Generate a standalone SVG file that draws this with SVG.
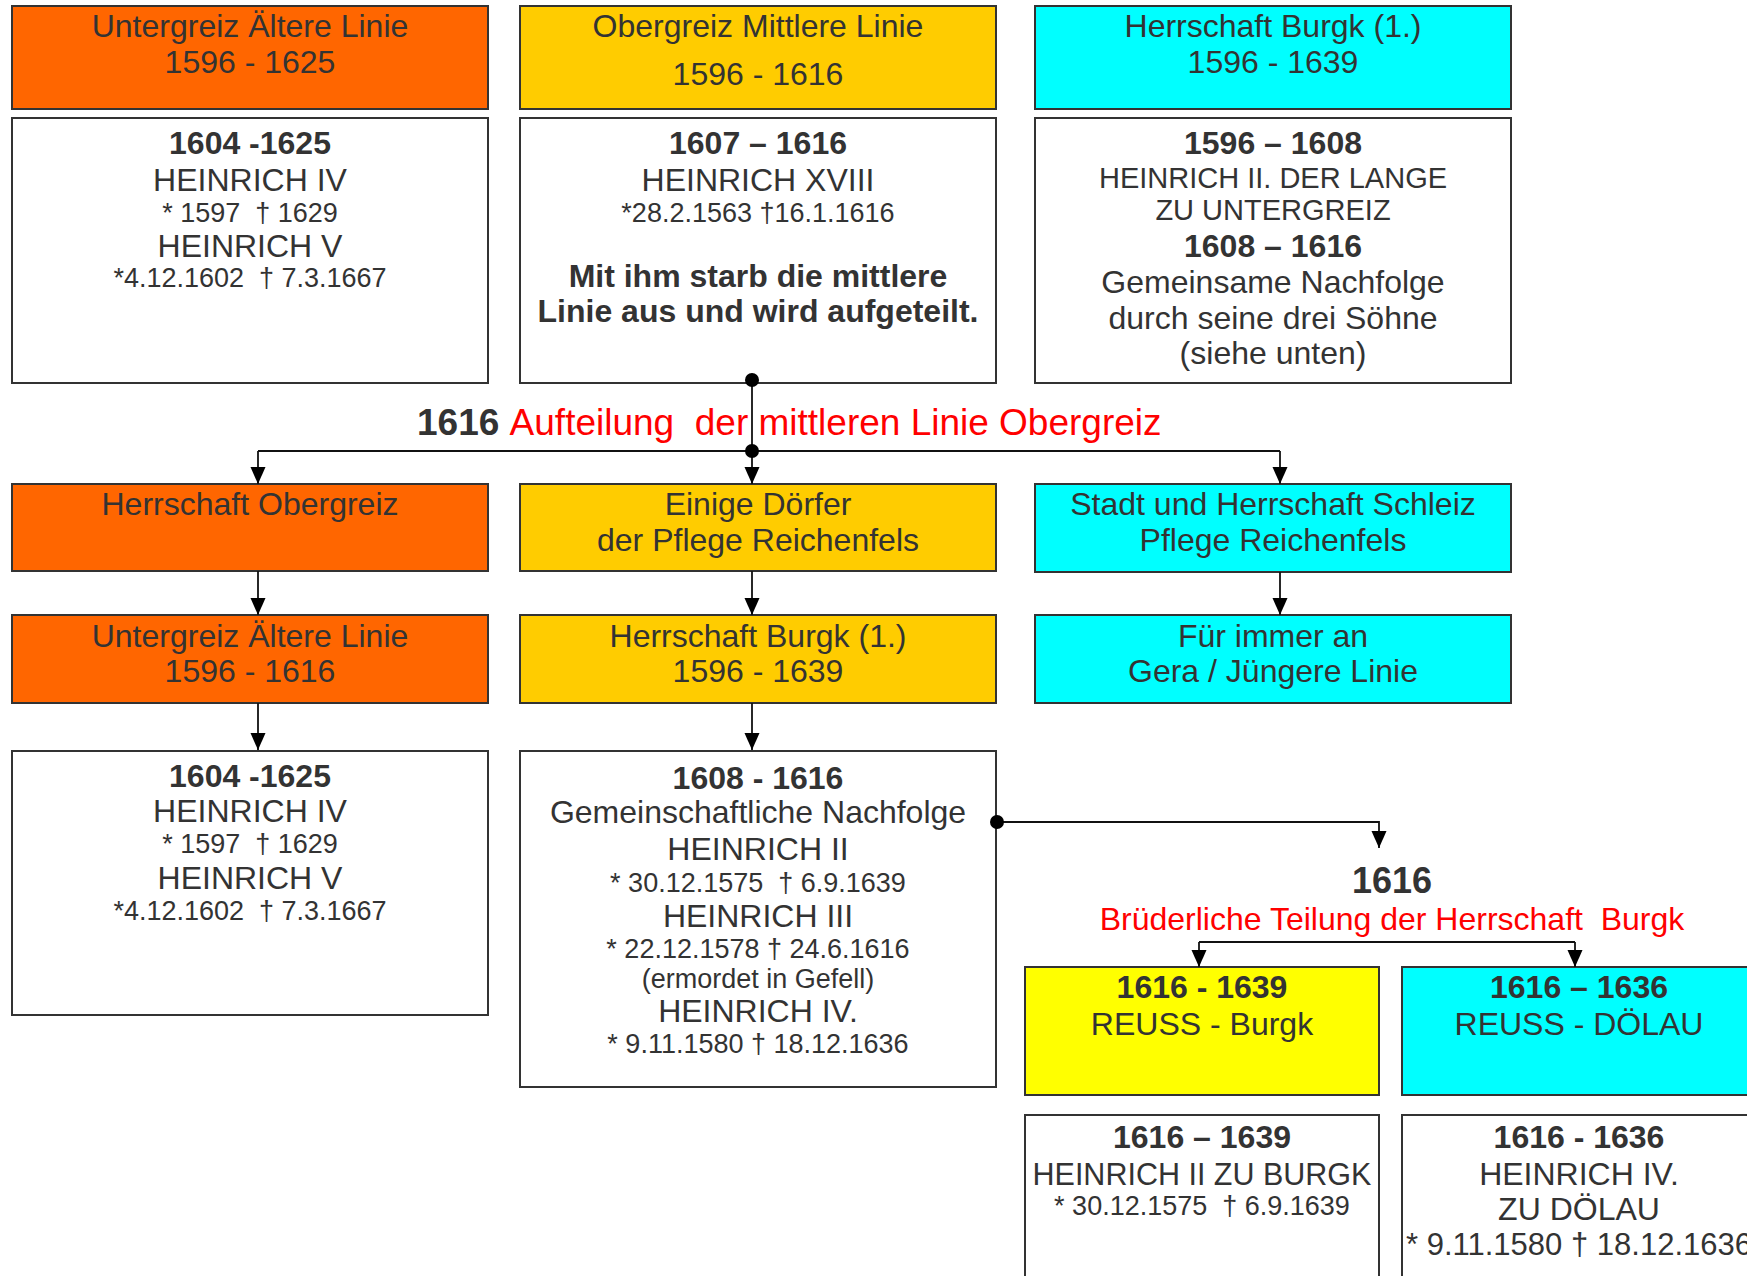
<svg xmlns="http://www.w3.org/2000/svg" width="1747" height="1276" viewBox="0 0 1747 1276" xml:space="preserve">
<style>
.box{stroke:#333;stroke-width:2}
.org{fill:#FF6600}.gold{fill:#FFCC00}.cyan{fill:#00FFFF}.yel{fill:#FFFF00}.wht{fill:#FFFFFF}
text{font-family:"Liberation Sans",Arial,sans-serif;fill:#333;text-anchor:middle;font-size:32px;white-space:pre}
.b{font-weight:bold}
.s{font-size:27px}
.m{font-size:29px}
.red{fill:#FF0000}
.con{stroke:#111;stroke-width:1.8;fill:none}
.arr{marker-end:url(#ah)}
.dot{fill:#000}
</style>
<defs>
<marker id="ah" markerUnits="userSpaceOnUse" markerWidth="18" markerHeight="16" refX="17" refY="7.5" orient="auto">
<path d="M0,0 L17,7.5 L0,15 Z" fill="#000"/>
</marker>
</defs>
<rect width="1747" height="1276" fill="#FFFFFF"/>

<g id="n-untergreiz-1">
<rect class="box org" x="12" y="6" width="476" height="103"/>
<text x="250" y="37">Untergreiz Ältere Linie</text>
<text x="250" y="73">1596 - 1625</text>
</g>
<g id="n-obergreiz-mittlere">
<rect class="box gold" x="520" y="6" width="476" height="103"/>
<text x="758" y="37">Obergreiz Mittlere Linie</text>
<text x="758" y="85">1596 - 1616</text>
</g>
<g id="n-burgk-1">
<rect class="box cyan" x="1035" y="6" width="476" height="103"/>
<text x="1273" y="37">Herrschaft Burgk (1.)</text>
<text x="1273" y="73">1596 - 1639</text>
</g>

<g id="n-heinrich-iv-v-top">
<rect class="box wht" x="12" y="118" width="476" height="265"/>
<text class="b" x="250" y="154">1604 -1625</text>
<text x="250" y="191">HEINRICH IV</text>
<text class="s" x="250" y="222">* 1597  † 1629</text>
<text x="250" y="257">HEINRICH V</text>
<text class="s" x="250" y="287">*4.12.1602  † 7.3.1667</text>
</g>
<g id="n-heinrich-xviii">
<rect class="box wht" x="520" y="118" width="476" height="265"/>
<text class="b" x="758" y="154">1607 – 1616</text>
<text x="758" y="191">HEINRICH XVIII</text>
<text class="s" x="758" y="222">*28.2.1563 †16.1.1616</text>
<text class="b" x="758" y="287">Mit ihm starb die mittlere</text>
<text class="b" x="758" y="322">Linie aus und wird aufgeteilt.</text>
</g>
<g id="n-heinrich-ii-lange">
<rect class="box wht" x="1035" y="118" width="476" height="265"/>
<text class="b" x="1273" y="154">1596 – 1608</text>
<text class="m" x="1273" y="188">HEINRICH II. DER LANGE</text>
<text class="m" x="1273" y="220">ZU UNTERGREIZ</text>
<text class="b" x="1273" y="257">1608 – 1616</text>
<text x="1273" y="293">Gemeinsame Nachfolge</text>
<text x="1273" y="329">durch seine drei Söhne</text>
<text x="1273" y="364">(siehe unten)</text>
</g>

<g id="label-aufteilung">
<text x="417" y="435" style="text-anchor:start;font-size:37px"><tspan class="b">1616 </tspan><tspan class="red">Aufteilung  der mittleren Linie Obergreiz</tspan></text>
</g>

<g id="n-herrschaft-obergreiz">
<rect class="box org" x="12" y="484" width="476" height="87"/>
<text x="250" y="515">Herrschaft Obergreiz</text>
</g>
<g id="n-einige-doerfer">
<rect class="box gold" x="520" y="484" width="476" height="87"/>
<text x="758" y="515">Einige Dörfer</text>
<text x="758" y="551">der Pflege Reichenfels</text>
</g>
<g id="n-schleiz">
<rect class="box cyan" x="1035" y="484" width="476" height="88"/>
<text x="1273" y="515">Stadt und Herrschaft Schleiz</text>
<text x="1273" y="551">Pflege Reichenfels</text>
</g>

<g id="n-untergreiz-2">
<rect class="box org" x="12" y="615" width="476" height="88"/>
<text x="250" y="647">Untergreiz Ältere Linie</text>
<text x="250" y="682">1596 - 1616</text>
</g>
<g id="n-burgk-2">
<rect class="box gold" x="520" y="615" width="476" height="88"/>
<text x="758" y="647">Herrschaft Burgk (1.)</text>
<text x="758" y="682">1596 - 1639</text>
</g>
<g id="n-gera">
<rect class="box cyan" x="1035" y="615" width="476" height="88"/>
<text x="1273" y="647">Für immer an</text>
<text x="1273" y="682">Gera / Jüngere Linie</text>
</g>

<g id="n-heinrich-iv-v-bottom">
<rect class="box wht" x="12" y="751" width="476" height="264"/>
<text class="b" x="250" y="787">1604 -1625</text>
<text x="250" y="822">HEINRICH IV</text>
<text class="s" x="250" y="853">* 1597  † 1629</text>
<text x="250" y="889">HEINRICH V</text>
<text class="s" x="250" y="920">*4.12.1602  † 7.3.1667</text>
</g>
<g id="n-gemeinschaftliche">
<rect class="box wht" x="520" y="751" width="476" height="336"/>
<text class="b" x="758" y="789">1608 - 1616</text>
<text x="758" y="823">Gemeinschaftliche Nachfolge</text>
<text x="758" y="860">HEINRICH II</text>
<text class="s" x="758" y="892">* 30.12.1575  † 6.9.1639</text>
<text x="758" y="927">HEINRICH III</text>
<text class="s" x="758" y="958">* 22.12.1578 † 24.6.1616</text>
<text class="s" x="758" y="988">(ermordet in Gefell)</text>
<text x="758" y="1022">HEINRICH IV.</text>
<text class="s" x="758" y="1053">* 9.11.1580 † 18.12.1636</text>
</g>

<g id="label-teilung">
<text class="b" x="1392" y="893" style="font-size:36px">1616</text>
<text class="red" x="1392" y="930">Brüderliche Teilung der Herrschaft  Burgk</text>
</g>

<g id="n-reuss-burgk">
<rect class="box yel" x="1025" y="967" width="354" height="128"/>
<text class="b" x="1202" y="998">1616 - 1639</text>
<text x="1202" y="1035">REUSS - Burgk</text>
</g>
<g id="n-reuss-doelau">
<rect class="box cyan" x="1402" y="967" width="360" height="128"/>
<text class="b" x="1579" y="998">1616 – 1636</text>
<text x="1579" y="1035">REUSS - DÖLAU</text>
</g>
<g id="n-heinrich-ii-burgk">
<rect class="box wht" x="1025" y="1115" width="354" height="180"/>
<text class="b" x="1202" y="1148">1616 – 1639</text>
<text x="1202" y="1185" style="font-size:30.5px">HEINRICH II ZU BURGK</text>
<text class="s" x="1202" y="1215">* 30.12.1575  † 6.9.1639</text>
</g>
<g id="n-heinrich-iv-doelau">
<rect class="box wht" x="1402" y="1115" width="360" height="180"/>
<text class="b" x="1579" y="1148">1616 - 1636</text>
<text x="1579" y="1185">HEINRICH IV.</text>
<text x="1579" y="1220">ZU DÖLAU</text>
<text x="1579" y="1255" style="font-size:31px">* 9.11.1580 † 18.12.1636</text>
</g>

<g id="connectors">
<line class="con" x1="752" y1="380" x2="752" y2="451"/>
<line class="con" x1="258" y1="451" x2="1280" y2="451"/>
<line class="con arr" x1="258" y1="451" x2="258" y2="484"/>
<line class="con arr" x1="752" y1="451" x2="752" y2="484"/>
<line class="con arr" x1="1280" y1="451" x2="1280" y2="484"/>
<line class="con arr" x1="258" y1="571" x2="258" y2="615"/>
<line class="con arr" x1="752" y1="571" x2="752" y2="615"/>
<line class="con arr" x1="1280" y1="572" x2="1280" y2="615"/>
<line class="con arr" x1="258" y1="703" x2="258" y2="750"/>
<line class="con arr" x1="752" y1="703" x2="752" y2="750"/>
<polyline class="con arr" points="997,822 1379,822 1379,848"/>
<line class="con" x1="1199" y1="942" x2="1575" y2="942"/>
<line class="con arr" x1="1199" y1="942" x2="1199" y2="967"/>
<line class="con arr" x1="1575" y1="942" x2="1575" y2="967"/>
<circle class="dot" cx="752" cy="380" r="7"/>
<circle class="dot" cx="752" cy="451" r="7"/>
<circle class="dot" cx="997" cy="822" r="7"/>
</g>
</svg>
